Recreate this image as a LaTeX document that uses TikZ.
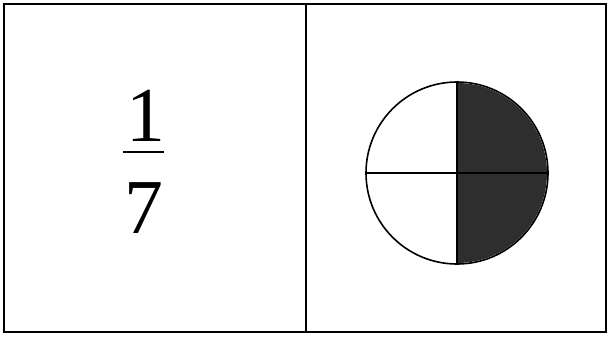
\documentclass[tikz,border=0pt]{standalone}
\usepackage{fontspec}
\setmainfont{Liberation Serif}
\usetikzlibrary{positioning}

\begin{document}
\begin{tikzpicture}[x=1bp, y=-1bp,
  panel/.style={draw=black, line width=1.4bp},
  digit/.style={inner sep=0pt, font=\fontsize{78}{78}\selectfont},
  disc/.style={circle, draw=black, line width=1.6bp, minimum size=182bp, inner sep=0pt},
  split/.style={draw=black, line width=1.3bp},
  shade/.style={fill=black!82}
]
\useasboundingbox (0,0) rectangle (610,338);

% 两个格子
\draw [panel] (4,4) rectangle (606,332);
\draw [panel] (306,4) -- (306,332);

% 分数 1/7
\node (num) [digit, anchor=south] at (146,142) {1};
\node (den) [digit, anchor=north] at (144,182) {7};
\coordinate (barL) at (123,152);
\coordinate (barR) at (164,152);
\draw [line width=2.6bp] (barL) -- (barR);

% 圆 (右半涂色)
\fill [shade] (457,83) arc[start angle=-90, end angle=90, radius=90] -- cycle;
\node (disc) [disc] at (457,173) {};
\draw [split] (disc.north) -- (disc.south);
\draw [split] (disc.west) -- (disc.east);

\end{tikzpicture}
\end{document}
